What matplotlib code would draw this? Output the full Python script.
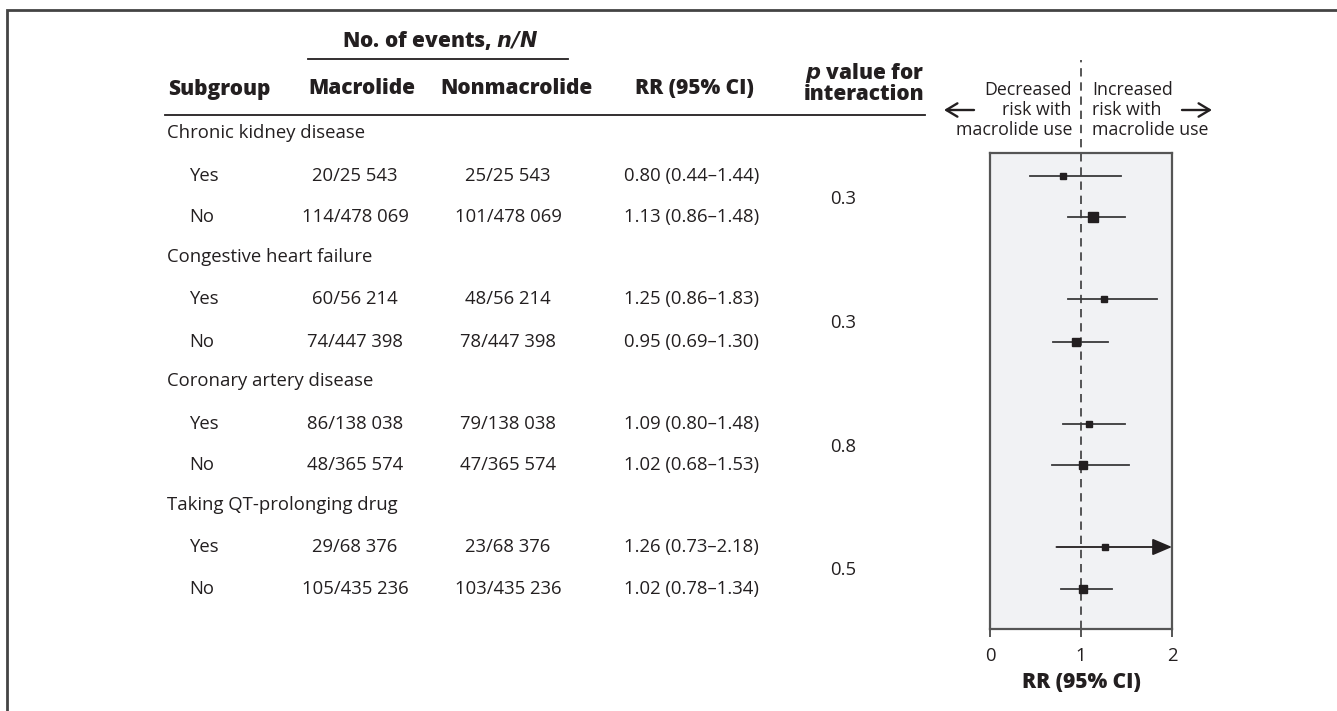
import matplotlib
matplotlib.use("Agg")
import matplotlib.pyplot as plt

# ---------------- data ----------------
groups = ["Chronic kidney disease", "Congestive heart failure",
          "Coronary artery disease", "Taking QT-prolonging drug"]
levels = ["Yes", "No"]
macrolide = ["20/25 543", "114/478 069", "60/56 214", "74/447 398",
             "86/138 038", "48/365 574", "29/68 376", "105/435 236"]
nonmacrolide = ["25/25 543", "101/478 069", "48/56 214", "78/447 398",
                "79/138 038", "47/365 574", "23/68 376", "103/435 236"]
rr = [0.80, 1.13, 1.25, 0.95, 1.09, 1.02, 1.26, 1.02]
lo = [0.44, 0.86, 0.86, 0.69, 0.80, 0.68, 0.73, 0.78]
hi = [1.44, 1.48, 1.83, 1.30, 1.48, 1.53, 2.18, 1.34]
weights = [6.0, 8.0, 5.5, 7.0, 6.0, 7.5, 5.5, 7.5]   # marker sizes (px)
p_interaction = ["0.3", "0.3", "0.8", "0.5"]
xticks = [0, 1, 2]

# ---------------- layout (pixels) ----------------
W, H = 1337, 711
group_y = [133, 257, 381, 505]
row_y = [176, 217, 299, 342, 424, 465, 547, 589]
box_l, box_r, box_t, box_b = 990, 1172, 153, 629
xmax = 2.0

TXT = "#231F20"
FS = 13.3
HFS = 15
HW = 800
plt.rcParams['font.family'] = ['Open Sans', 'DejaVu Sans']

fig = plt.figure(figsize=(W / 100, H / 100), dpi=100)
ax0 = fig.add_axes([0, 0, 1, 1])
ax0.set_xlim(0, W)
ax0.set_ylim(H, 0)
ax0.axis("off")

# outer frame (top + left)
ax0.plot([7, 7, W], [H, 10, 10], color="#444444", lw=2.0, solid_joinstyle="miter")

# headers
ax0.text(440, 40, r"No. of events, $\mathbfit{n/N}$", ha="center", va="center",
         fontsize=HFS, fontweight=HW, color=TXT)
ax0.plot([308, 568], [59, 59], color=TXT, lw=1.3)
hy = 89
ax0.text(168, hy, "Subgroup", ha="left", va="center", fontsize=HFS, fontweight=HW, color=TXT)
ax0.text(362, hy, "Macrolide", ha="center", va="center", fontsize=HFS, fontweight=HW, color=TXT)
ax0.text(517, hy, "Nonmacrolide", ha="center", va="center", fontsize=HFS, fontweight=HW, color=TXT)
ax0.text(694, hy, "RR (95% CI)", ha="center", va="center", fontsize=HFS, fontweight=HW, color=TXT)
ax0.text(864, 73, r"$\mathbfit{p}$ value for", ha="center", va="center", fontsize=HFS,
         fontweight=HW, color=TXT)
ax0.text(864, 95, "interaction", ha="center", va="center", fontsize=HFS, fontweight=HW, color=TXT)
ax0.plot([165, 925], [115, 115], color=TXT, lw=1.3)

# direction annotations
ax0.text(1072, 110, "Decreased\nrisk with\nmacrolide use", ha="right", va="center",
         fontsize=12.8, color=TXT, linespacing=1.15, multialignment="right")
ax0.text(1092, 110, "Increased\nrisk with\nmacrolide use", ha="left", va="center",
         fontsize=12.8, color=TXT, linespacing=1.15, multialignment="left")
ax0.annotate("", xy=(944, 110), xytext=(974, 110),
             arrowprops=dict(arrowstyle="->,head_length=0.5,head_width=0.3", color=TXT,
                             lw=1.7, mutation_scale=16, shrinkA=0, shrinkB=0))
ax0.annotate("", xy=(1212, 110), xytext=(1182, 110),
             arrowprops=dict(arrowstyle="->,head_length=0.5,head_width=0.3", color=TXT,
                             lw=1.7, mutation_scale=16, shrinkA=0, shrinkB=0))

# table body
for g, gy in zip(groups, group_y):
    ax0.text(167, gy, g, ha="left", va="center", fontsize=FS, color=TXT)
for i, y in enumerate(row_y):
    ax0.text(189, y, levels[i % 2], ha="left", va="center", fontsize=FS, color=TXT)
    ax0.text(355, y, macrolide[i], ha="center", va="center", fontsize=FS, color=TXT)
    ax0.text(508, y, nonmacrolide[i], ha="center", va="center", fontsize=FS, color=TXT)
    ax0.text(624, y, f"{rr[i]:.2f} ({lo[i]:.2f}\u2013{hi[i]:.2f})", ha="left",
             va="center", fontsize=FS, color=TXT)
for k, p in enumerate(p_interaction):
    ax0.text(843, (row_y[2 * k] + row_y[2 * k + 1]) / 2 + 2, p, ha="center",
             va="center", fontsize=FS, color=TXT)

# forest panel
ax = fig.add_axes([box_l / W, (H - box_b) / H, (box_r - box_l) / W, (box_b - box_t) / H])
ax.set_xlim(0, xmax)
ax.set_ylim(box_b, box_t)
ax.set_facecolor("#F1F2F4")
for s in ["top", "right", "left", "bottom"]:
    ax.spines[s].set_color("#555555")
    ax.spines[s].set_linewidth(1.6)
ax.set_yticks([])
ax.set_xticks(xticks)
ax.set_xticklabels([str(t) for t in xticks], fontsize=FS, color=TXT)
ax.tick_params(axis="x", direction="out", length=6, width=1.4, color="#555555", pad=7)
ax.set_xlabel("RR (95% CI)", fontsize=HFS, fontweight=HW, color=TXT, labelpad=5)

ax.plot([1, 1], [box_b, 60], ls=(0, (5, 3.5)), color="#3a3a3a", lw=1.2, clip_on=False, zorder=2)

for i, y in enumerate(row_y):
    if hi[i] > xmax:
        ax.annotate("", xy=(xmax, y), xytext=(lo[i], y),
                    arrowprops=dict(arrowstyle="-|>,head_length=0.75,head_width=0.32",
                                    color=TXT, lw=1.3, mutation_scale=16,
                                    shrinkA=0, shrinkB=0),
                    annotation_clip=False, zorder=3)
    else:
        ax.plot([lo[i], hi[i]], [y, y], color="#3a3a3a", lw=1.3, zorder=3)
    ax.plot(rr[i], y, marker="s", ms=weights[i] * 0.75 + 0.5, color=TXT, mec=TXT, zorder=4)

fig.savefig("out.png", dpi=100)
